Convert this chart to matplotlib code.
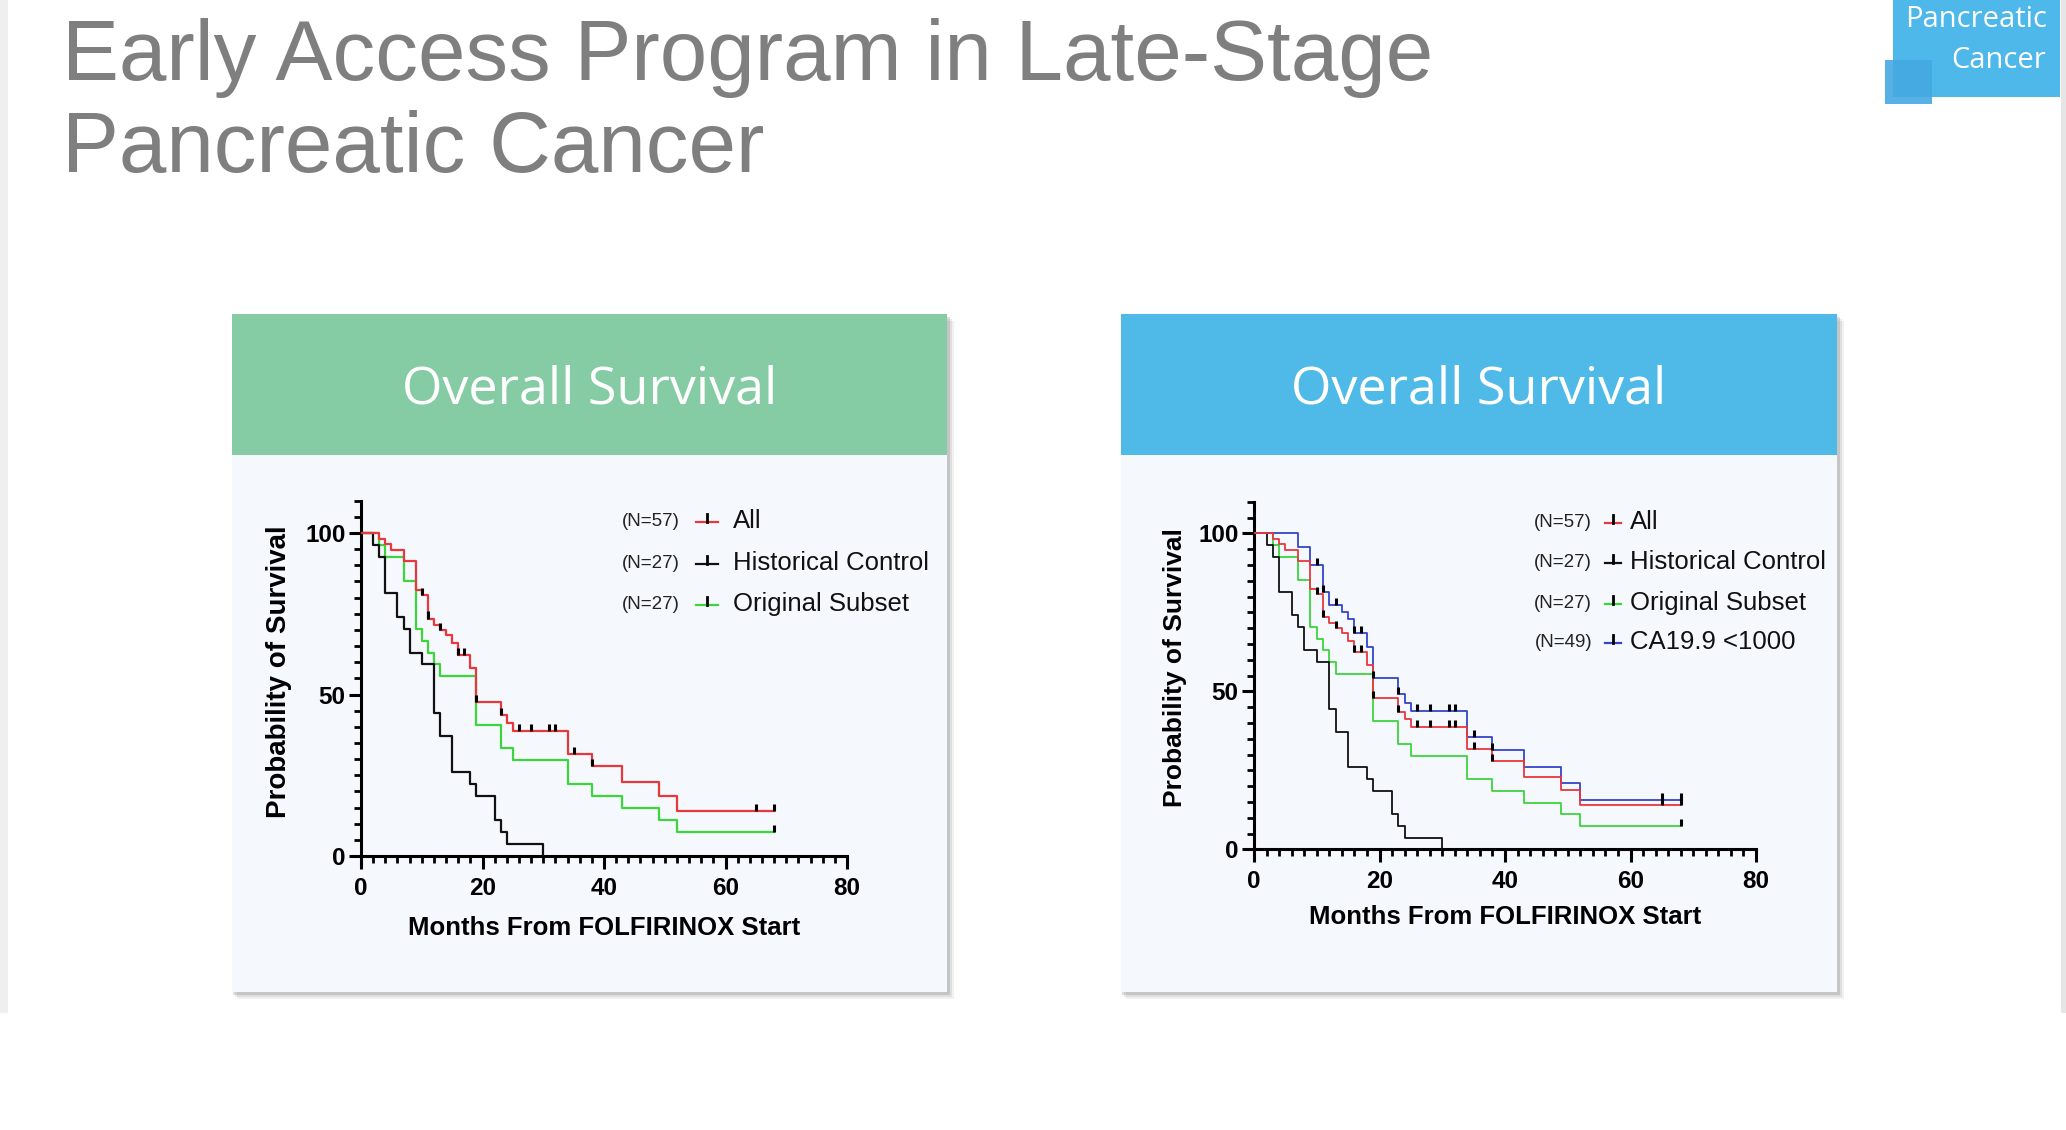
import numpy as np
import matplotlib.pyplot as plt
from matplotlib.patches import Rectangle
from matplotlib.lines import Line2D
from matplotlib.ticker import MultipleLocator

plt.rcParams['font.family'] = ['Liberation Sans', 'DejaVu Sans']

# Kaplan-Meier step data (months, % surviving)
hist_t = [0, 2, 3, 4, 6, 7, 8, 10, 12, 13, 15, 18, 19, 22, 23, 24, 30]
hist_s = [100, 96.3, 92.6, 81.5, 74.1, 70.4, 63.0, 59.3, 44.4, 37.0, 25.9,
          22.2, 18.5, 11.1, 7.4, 3.7, 0]
hist_cens = []

all_t = [0, 3, 4, 5, 7, 9, 10, 11, 12, 13, 14, 15, 16, 18, 19, 23, 24, 25,
         34, 38, 43, 49, 52]
all_s = [100, 98.2, 96.5, 94.7, 91.2, 82.5, 80.7, 73.5, 71.5, 70.0, 68.4,
         65.9, 62.3, 58.2, 47.8, 43.6, 41.1, 38.8, 31.6, 27.9, 23.0, 18.7, 14.0]
all_cens = [10, 11, 13, 16, 17, 19, 23, 26, 28, 31, 32, 35, 38, 65, 68]

orig_t = [0, 3, 4, 7, 9, 10, 11, 12, 13, 19, 23, 25, 34, 38, 43, 49, 52]
orig_s = [100, 96.3, 92.6, 85.2, 70.4, 66.7, 63.0, 59.3, 55.6, 40.7, 33.3,
          29.6, 22.2, 18.5, 14.8, 11.1, 7.4]
orig_cens = [68]

ca_t = [0, 7, 9, 11, 12, 14, 15, 16, 18, 19, 23, 24, 25, 34, 38, 43, 49, 52]
ca_s = [100, 95.8, 89.9, 81.4, 77.2, 75.1, 72.8, 68.6, 63.9, 54.3, 49.3,
        46.2, 43.8, 35.6, 31.4, 26.1, 20.9, 15.6]
ca_cens = [10, 11, 13, 16, 17, 19, 23, 26, 28, 31, 32, 35, 38, 65, 68]

follow_up = 68

names = ['All', 'Historical Control', 'Original Subset', 'CA19.9 <1000']
counts = ['(N=57)', '(N=27)', '(N=27)', '(N=49)']
colors = ['#e8383d', '#111111', '#3ed43e', '#3545c8']

W, H = 2066, 1130


def fx(x):
    return x / W


def fy(y):
    return 1 - y / H


def rect(x0, y0, x1, y1, color, z=0, alpha=1.0):
    fig.patches.append(Rectangle((fx(x0), fy(y1)), (x1 - x0) / W, (y1 - y0) / H,
                                 transform=fig.transFigure, facecolor=color,
                                 edgecolor='none', alpha=alpha, zorder=z))


def panel(x0, x1, head_color):
    y0, yh, y1 = 314, 455, 992
    for off, a in [(7, 0.10), (5, 0.15), (3, 0.25)]:
        rect(x0 + off - 2, y0 + off, x1 + off, y1 + off, '#7a7a7a', z=0, alpha=a)
    rect(x0, y0, x1, y1, '#f5f9fd', z=1)
    rect(x0, y0, x1, yh, head_color, z=2)
    fig.text(fx((x0 + x1) / 2), fy(404), 'Overall Survival', color='white',
             fontsize=37.5, family=['Open Sans', 'DejaVu Sans'],
             ha='center', va='baseline', zorder=3)


def km(ax, t, s, color, lw, cens, z):
    end = follow_up if s[-1] > 0 else t[-1]
    ax.step(list(t) + [end], list(s) + [s[-1]], where='post',
            color=color, lw=lw, zorder=z)
    for c in cens:
        lvl = s[np.searchsorted(t, c, side='right') - 1]
        ax.vlines(c, lvl, lvl + 2.2, color='black', lw=2.2, zorder=6)


def style(ax):
    ax.set_xlim(0, 80)
    ax.set_ylim(0, 110)
    ax.patch.set_alpha(0)
    for sp in ['top', 'right']:
        ax.spines[sp].set_visible(False)
    for sp in ['left', 'bottom']:
        ax.spines[sp].set_linewidth(2.2)
    ax.set_xticks([0, 20, 40, 60, 80])
    ax.xaxis.set_minor_locator(MultipleLocator(2))
    ax.set_yticks([0, 50, 100])
    ax.yaxis.set_minor_locator(MultipleLocator(5))
    ax.tick_params(which='major', length=9, width=2.2, labelsize=17.5)
    ax.tick_params(which='minor', length=5, width=2)
    ax.tick_params(axis='x', pad=6)
    ax.tick_params(axis='y', pad=2)
    for lab in ax.get_xticklabels() + ax.get_yticklabels():
        lab.set_fontweight('bold')


def legend(rows, x_n, x_m0, x_m1, x_txt, idx):
    for y, i in zip(rows, idx):
        fig.text(fx(x_n), fy(y + 7), counts[i], fontsize=13.5, ha='right',
                 va='baseline', color='#222222', zorder=5)
        fig.add_artist(Line2D([fx(x_m0), fx(x_m1)], [fy(y + 3), fy(y + 3)],
                              color=colors[i], lw=1.6, zorder=5))
        xm = (x_m0 + x_m1) / 2
        fig.add_artist(Line2D([fx(xm), fx(xm)], [fy(y + 3), fy(y - 5)],
                              color='black', lw=2, zorder=5))
        fig.text(fx(x_txt), fy(y + 9), names[i], fontsize=18.5, ha='left',
                 va='baseline', color='#111111', zorder=5)


fig = plt.figure(figsize=(W / 100, H / 100), dpi=100)
fig.patch.set_facecolor('white')

# slide edges
rect(0, 0, 8, 1013, '#efefef')
rect(2061, 0, 2066, 1013, '#e6e6e6')

# title
fig.text(fx(62), fy(80), 'Early Access Program in Late-Stage', fontsize=61.5,
         color='#7f7f7f', ha='left', va='baseline')
fig.text(fx(62), fy(172), 'Pancreatic Cancer', fontsize=61.5,
         color='#7f7f7f', ha='left', va='baseline')

# corner badge
rect(1893, 0, 2060, 97, '#4db8e9', z=1)
rect(1885, 60, 1932, 104, '#45a9e2', z=2, alpha=0.9)
fig.text(fx(2047), fy(27), 'Pancreatic', color='white', fontsize=21,
         family=['Open Sans', 'DejaVu Sans'], ha='right', va='baseline', zorder=3)
fig.text(fx(2046), fy(68), 'Cancer', color='white', fontsize=21,
         family=['Open Sans', 'DejaVu Sans'], ha='right', va='baseline', zorder=3)

panel(232, 947, '#85cca4')
panel(1121, 1837, '#4fbae8')

# left chart
ax1 = fig.add_axes([fx(361), fy(856), (847 - 361) / W, (856 - 500.7) / H])
ax1.set_zorder(4)
km(ax1, orig_t, orig_s, colors[2], 1.6, orig_cens, 2)
km(ax1, hist_t, hist_s, colors[1], 1.6, hist_cens, 3)
km(ax1, all_t, all_s, colors[0], 1.6, all_cens, 5)
style(ax1)
fig.text(fx(279), fy(672), 'Probability of Survival', rotation=90, fontsize=20,
         fontweight='bold', ha='center', va='center', zorder=5)
fig.text(fx(604), fy(928), 'Months From FOLFIRINOX Start', fontsize=18.5,
         fontweight='bold', ha='center', va='center', zorder=5)
legend([519, 561, 602], 680, 696, 718, 733, [0, 1, 2])

# right chart
ax2 = fig.add_axes([fx(1254), fy(849.3), (1756 - 1254) / W, (849.3 - 501.7) / H])
ax2.set_zorder(4)
km(ax2, orig_t, orig_s, colors[2], 1.3, orig_cens, 2)
km(ax2, hist_t, hist_s, colors[1], 1.3, hist_cens, 3)
km(ax2, ca_t, ca_s, colors[3], 1.3, ca_cens, 4)
km(ax2, all_t, all_s, colors[0], 1.3, all_cens, 5)
style(ax2)
fig.text(fx(1175), fy(668), 'Probability of Survival', rotation=90, fontsize=19,
         fontweight='bold', ha='center', va='center', zorder=5)
fig.text(fx(1505), fy(917), 'Months From FOLFIRINOX Start', fontsize=18.5,
         fontweight='bold', ha='center', va='center', zorder=5)
legend([520, 560, 601, 640], 1592, 1605, 1621, 1630, [0, 1, 2, 3])

fig.savefig('out.png', dpi=100)
